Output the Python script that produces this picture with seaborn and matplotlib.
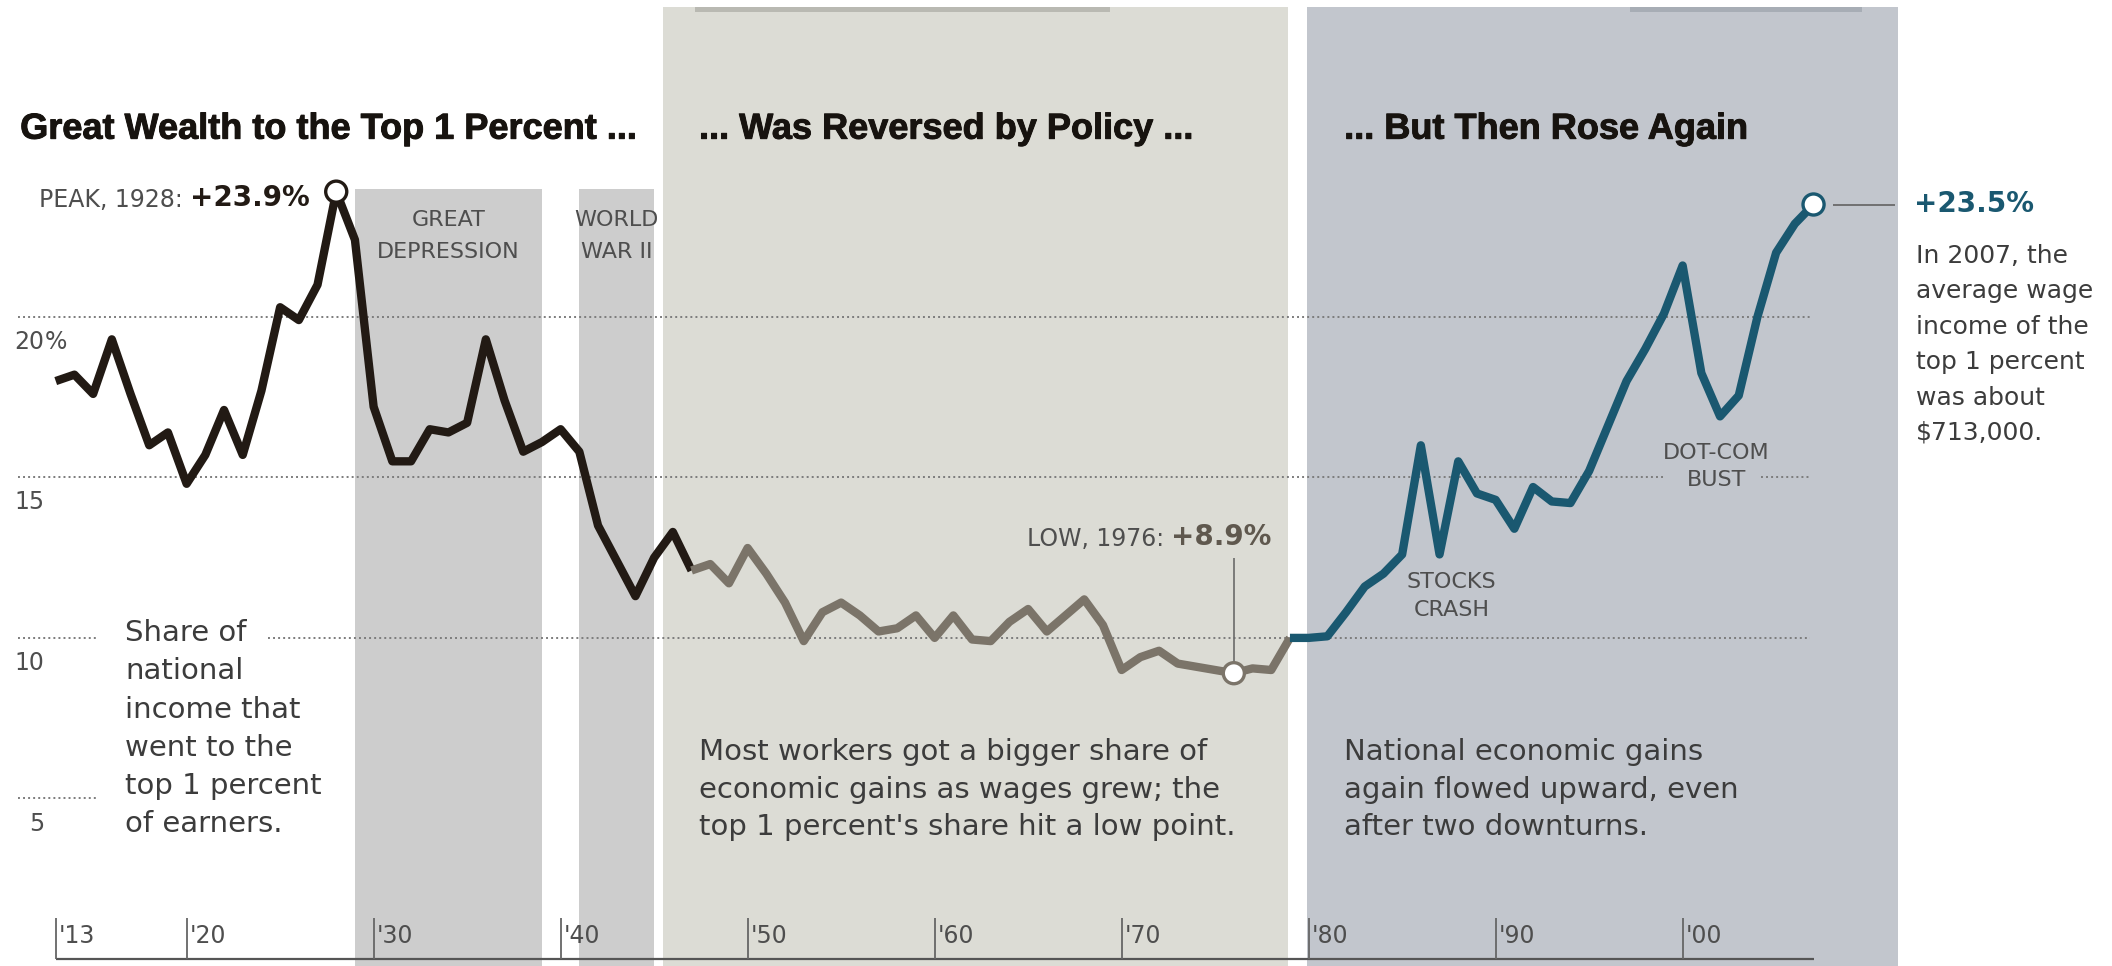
import matplotlib
matplotlib.use("Agg")
import matplotlib.pyplot as plt
import matplotlib.patheffects as pe
import pandas as pd
import seaborn as sns

# ---------------------------------------------------------------- data
years = list(range(1913, 2008))
top1_share = [
    18.0, 18.2, 17.6, 19.3, 17.6, 16.0, 16.4,                      # 1913-1919
    14.8, 15.7, 17.1, 15.7, 17.7, 20.3, 19.9, 21.0, 23.9, 22.4,    # 1920s
    17.2, 15.5, 15.5, 16.5, 16.4, 16.7, 19.3, 17.4, 15.8, 16.1,    # 1930s
    16.5, 15.8, 13.5, 12.4, 11.3, 12.5, 13.3, 12.1, 12.3, 11.7,    # 1940s
    12.8, 12.0, 11.1, 9.9, 10.8, 11.1, 10.7, 10.2, 10.3, 10.7,     # 1950s
    10.0, 10.7, 9.95, 9.9, 10.5, 10.9, 10.2, 10.7, 11.2, 10.4,     # 1960s
    9.0, 9.4, 9.6, 9.2, 9.1, 9.0, 8.9, 9.05, 9.0, 10.0,            # 1970s
    10.0, 10.05, 10.8, 11.6, 12.0, 12.6, 16.0, 12.6, 15.5, 14.5,   # 1980s
    14.3, 13.4, 14.7, 14.25, 14.2, 15.2, 16.6, 18.0, 19.0, 20.1,   # 1990s
    21.6, 18.25, 16.9, 17.55, 20.0, 22.0, 22.9, 23.5,              # 2000-2007
]

era_titles = ["Great Wealth to the Top 1 Percent ...",
              "... Was Reversed by Policy ...",
              "... But Then Rose Again"]
era_first = [1913, 1947, 1979]
era_last = [1947, 1979, 2007]

event_labels = ["GREAT\nDEPRESSION", "WORLD\nWAR II"]
event_from = [1929.0, 1941.0]
event_to = [1939.0, 1945.0]

era_band_from = [1945.5, 1979.9]
era_band_to = [1978.9, 2011.5]

grid_values = [20, 15, 10, 5]
tick_years = [1913, 1920, 1930, 1940, 1950, 1960, 1970, 1980, 1990, 2000]
tick_labels = ["'13", "'20", "'30", "'40", "'50", "'60", "'70", "'80", "'90", "'00"]

peak_year, low_year, last_year = 1928, 1976, 2007

# ---------------------------------------------------------------- style
sns.set_style("white")
plt.rcParams["font.family"] = ["DejaVu Sans"]
TITLE_FONT = ["Liberation Sans", "DejaVu Sans"]

ERA_COLORS = ["#221a14", "#7b7469", "#1a5870"]
EVENT_BAND = "#cdcdcd"
ERA_BANDS = ["#dcdcd5", "#c2c6cd"]
TEXT = "#3c3c3c"
LABEL = "#4e4e4e"
GRID = "#7c7c7c"

fig = plt.figure(figsize=(21.12, 9.66), dpi=100)
ax = fig.add_axes([0, 0, 1, 1])

# ---------------------------------------------------------------- backgrounds
for x0, x1 in zip(event_from, event_to):
    ax.axvspan(x0, x1, ymin=0, ymax=0.804, color=EVENT_BAND, lw=0, zorder=0)
for x0, x1, c in zip(era_band_from, era_band_to, ERA_BANDS):
    ax.axvspan(x0, x1, ymin=0, ymax=0.993, color=c, lw=0, zorder=0)
ax.axvspan(1947.2, 1969.4, ymin=0.988, ymax=0.993, color="#b9b9b2", lw=0, zorder=0)
ax.axvspan(1997.2, 2009.6, ymin=0.988, ymax=0.993, color="#a7adb5", lw=0, zorder=0)

# dotted reference lines
dots = dict(color=GRID, lw=1.4, linestyle=(0, (1, 1.6)), zorder=1)
grid_segments = {
    20: [(1910.98, 2006.8)],
    15: [(1910.98, 1998.95), (2004.2, 2006.8)],
    10: [(1910.98, 1915.15), (1924.35, 2006.8)],
    5: [(1910.98, 1915.15)],
}
for v in grid_values:
    for x0, x1 in grid_segments[v]:
        ax.hlines(v, x0, x1, **dots)

# y labels
for v in grid_values:
    ax.text(1912.4, v - 1.0, f"{v}", ha="right", va="baseline",
            fontsize=17, color=LABEL, zorder=5)
ax.text(1912.4, grid_values[0] - 1.0, "%", ha="left", va="baseline",
        fontsize=17, color=LABEL, zorder=5)

# x axis
ax.hlines(0, years[0], years[-1], color="#555555", lw=1.6, zorder=2)
for yr, lab in zip(tick_years, tick_labels):
    ax.vlines(yr, 0, 1.28, color="#666666", lw=1.3, zorder=2)
    ax.text(yr + 0.15, 0.5, lab, ha="left", va="baseline",
            fontsize=17, color=LABEL, zorder=5)

# ---------------------------------------------------------------- series
df = pd.DataFrame({"year": years, "share": top1_share})
parts = []
for name, a, b in zip(era_titles, era_first, era_last):
    seg = df[(df.year >= a) & (df.year <= b)].copy()
    seg["era"] = name
    parts.append(seg)
long_df = pd.concat(parts, ignore_index=True)

sns.lineplot(data=long_df, x="year", y="share", hue="era",
             palette=dict(zip(era_titles, ERA_COLORS)), estimator=None,
             sort=False, linewidth=6, legend=False, ax=ax, zorder=3)
for ln in ax.get_lines():
    ln.set_solid_joinstyle("round")
    ln.set_solid_capstyle("butt")

share_of = dict(zip(years, top1_share))
marks = pd.DataFrame({
    "year": [peak_year, low_year, last_year],
    "share": [share_of[peak_year], share_of[low_year], share_of[last_year]],
})
sns.scatterplot(data=marks, x="year", y="share", s=230, color="white",
                edgecolor=ERA_COLORS, linewidth=2.4, ax=ax, zorder=4, legend=False)

ax.set_xlim(1910.02, 2022.96)
ax.set_ylim(-0.22, 29.87)
ax.axis("off")

# ---------------------------------------------------------------- titles
heavy = [pe.withStroke(linewidth=0.7, foreground="#17130f")]
for name, x in zip(era_titles, [1911.1, 1947.4, 1981.9]):
    ax.text(x, 25.55, name, ha="left", va="baseline", fontsize=26,
            fontweight="bold", family=TITLE_FONT, color="#17130f",
            path_effects=heavy, zorder=5)

# event labels
for lab, x in zip(event_labels, [1934.0, 1943.0]):
    ax.text(x, 23.34, lab, ha="center", va="top", fontsize=16,
            color=LABEL, linespacing=1.76, zorder=5)

# peak callout
pk = ax.text(1926.6, 23.44, f"+{share_of[peak_year]:.1f}%", ha="right",
             va="baseline", fontsize=20, fontweight="bold",
             color=ERA_COLORS[0], zorder=5)
ax.annotate(f"PEAK, {peak_year}: ", xy=(0, 0), xycoords=pk, ha="right",
            va="bottom", fontsize=17, color=LABEL, zorder=5)

# low callout
lo = ax.text(1978.03, 12.9, f"+{share_of[low_year]:.1f}%", ha="right",
             va="baseline", fontsize=20, fontweight="bold",
             color="#5f584e", zorder=5)
ax.annotate(f"LOW, {low_year}: ", xy=(0, 0), xycoords=lo, ha="right",
            va="bottom", fontsize=17, color=LABEL, zorder=5)
ax.vlines(low_year, share_of[low_year] + 0.3, 12.5, color="#6a6a6a", lw=1.2, zorder=2)

# latest callout
ax.hlines(share_of[last_year], last_year + 1.04, 2011.38, color="#6a6a6a", lw=1.3, zorder=2)
ax.text(2012.36, 23.28, f"+{share_of[last_year]:.1f}%", ha="left",
        va="baseline", fontsize=20, fontweight="bold",
        color=ERA_COLORS[2], zorder=5)
ax.text(2012.47, 22.27,
        "In 2007, the\naverage wage\nincome of the\ntop 1 percent\nwas about\n$713,000.",
        ha="left", va="top", fontsize=18, color=TEXT, linespacing=1.6, zorder=5)

# downturn labels
ax.text(1987.64, 12.06, "STOCKS\nCRASH", ha="center", va="top", fontsize=16,
        color=LABEL, linespacing=1.5, zorder=5)
ax.text(2001.82, 16.08, "DOT-COM\nBUST", ha="center", va="top", fontsize=16,
        color=LABEL, linespacing=1.43, zorder=5)

# paragraphs
ax.text(1916.7, 10.58,
        "Share of\nnational\nincome that\nwent to the\ntop 1 percent\nof earners.",
        ha="left", va="top", fontsize=21, color=TEXT, linespacing=1.46, zorder=5)
ax.text(1947.4, 6.87,
        "Most workers got a bigger share of\neconomic gains as wages grew; the\n"
        "top 1 percent's share hit a low point.",
        ha="left", va="top", fontsize=21, color=TEXT, linespacing=1.42, zorder=5)
ax.text(1981.9, 6.87,
        "National economic gains\nagain flowed upward, even\nafter two downturns.",
        ha="left", va="top", fontsize=21, color=TEXT, linespacing=1.42, zorder=5)

fig.savefig("out.png", dpi=100, facecolor="white")
